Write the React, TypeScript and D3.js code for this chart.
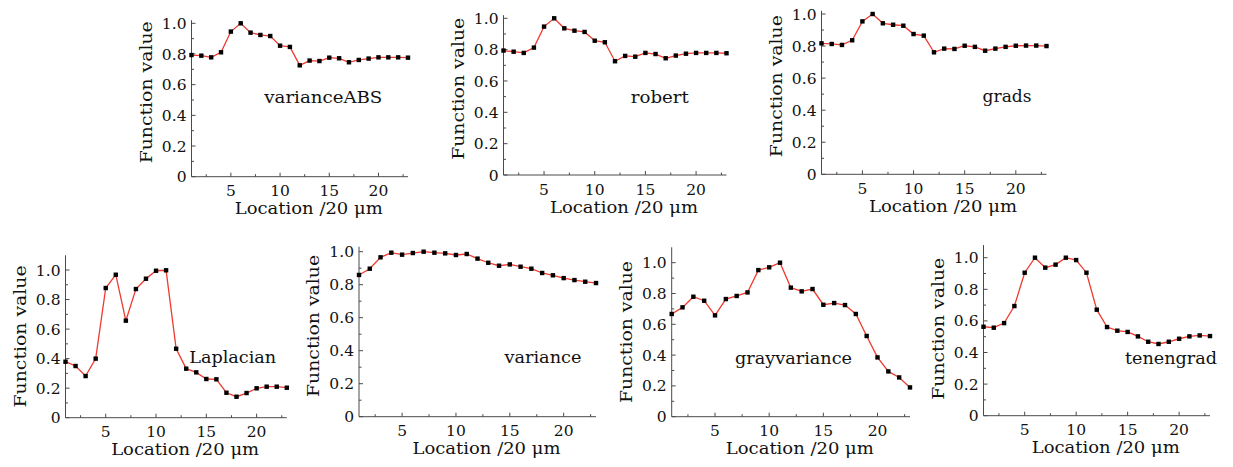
import React from 'react';
import * as d3 from 'd3';

// location index along the sample (units of 20 um)
const locations = [1, 2, 3, 4, 5, 6, 7, 8, 9, 10, 11, 12, 13, 14, 15, 16, 17, 18, 19, 20, 21, 22, 23];

const varianceABS = [0.793, 0.789, 0.778, 0.811, 0.946, 1.0, 0.939, 0.924, 0.917, 0.854, 0.846, 0.726, 0.757, 0.754, 0.776, 0.772, 0.746, 0.761, 0.77, 0.778, 0.778, 0.778, 0.776];
const robert = [0.794, 0.787, 0.779, 0.813, 0.947, 1.0, 0.936, 0.921, 0.913, 0.857, 0.847, 0.726, 0.76, 0.755, 0.779, 0.772, 0.745, 0.762, 0.774, 0.779, 0.779, 0.779, 0.777];
const grads = [0.817, 0.813, 0.807, 0.836, 0.954, 1.0, 0.942, 0.933, 0.927, 0.875, 0.865, 0.761, 0.784, 0.782, 0.802, 0.795, 0.771, 0.784, 0.795, 0.802, 0.803, 0.803, 0.8];
const laplacian = [0.379, 0.35, 0.282, 0.4, 0.878, 0.968, 0.657, 0.871, 0.941, 0.995, 0.998, 0.467, 0.332, 0.307, 0.262, 0.26, 0.169, 0.142, 0.167, 0.199, 0.21, 0.21, 0.203];
const variance = [0.859, 0.897, 0.966, 0.994, 0.982, 0.992, 1.0, 0.994, 0.99, 0.98, 0.986, 0.958, 0.933, 0.915, 0.923, 0.909, 0.897, 0.871, 0.857, 0.84, 0.828, 0.818, 0.81];
const grayvariance = [0.667, 0.71, 0.779, 0.753, 0.658, 0.764, 0.784, 0.807, 0.952, 0.97, 1.0, 0.838, 0.814, 0.829, 0.727, 0.738, 0.725, 0.667, 0.524, 0.385, 0.294, 0.255, 0.19];
const tenengrad = [0.563, 0.557, 0.586, 0.694, 0.905, 1.0, 0.937, 0.956, 1.0, 0.985, 0.905, 0.671, 0.561, 0.538, 0.53, 0.502, 0.468, 0.454, 0.468, 0.487, 0.502, 0.508, 0.504];

const yTicks = [0, 0.2, 0.4, 0.6, 0.8, 1.0];
const xTicks = [5, 10, 15, 20];

const FONT = '"DejaVu Serif", "Liberation Serif", serif';
const AXIS = '#4a4a4a';
const LINE = '#ee3b2f';
const INK = '#111';

// left/right = pixel of x=1 and x=23, bottom/top = pixel of y=0 and y=1
const panels = [
  { name: 'varianceABS', values: varianceABS, left: 191.5, right: 408, bottom: 176.7, top: 23.3, yMax: 1.02, lx: 8.4, ly: 0.48, lw: 118 },
  { name: 'robert', values: robert, left: 503.5, right: 726.5, bottom: 175, top: 18.3, yMax: 1.02, lx: 13.56, ly: 0.461, lw: 58 },
  { name: 'grads', values: grads, left: 821.5, right: 1046.5, bottom: 174.3, top: 14, yMax: 1.02, lx: 16.75, ly: 0.453, lw: 49 },
  { name: 'Laplacian', values: laplacian, left: 65.5, right: 286.8, bottom: 417.7, top: 270, yMax: 1.1, lx: 13.3, ly: 0.368, lw: 87 },
  { name: 'variance', values: variance, left: 359, right: 596, bottom: 416.7, top: 251.7, yMax: 1.03, lx: 14.5, ly: 0.324, lw: 77 },
  { name: 'grayvariance', values: grayvariance, left: 671.7, right: 910, bottom: 416.7, top: 262.7, yMax: 1.1, lx: 6.85, ly: 0.342, lw: 117 },
  { name: 'tenengrad', values: tenengrad, left: 983.5, right: 1210, bottom: 415.7, top: 257.7, yMax: 1.08, lx: 14.74, ly: 0.327, lw: 92 },
];

const Panel = ({ p }) => {
  const x = d3.scaleLinear().domain([1, 23]).range([p.left, p.right]);
  const y = d3.scaleLinear().domain([0, 1]).range([p.bottom, p.top]);
  const line = d3.line<number>().x((d, i) => x(locations[i])).y(d => y(d));
  const minorX = d3.range(2.5, 23, 2.5).filter(v => !xTicks.includes(v));
  const minorY = d3.range(0.1, p.yMax, 0.2);

  return (
    <g fill={INK}>
      {/* axes */}
      <line x1={x(1)} x2={x(1)} y1={y(0)} y2={y(p.yMax)} stroke={AXIS} strokeWidth={1} />
      <line x1={x(1)} x2={x(23)} y1={y(0)} y2={y(0)} stroke={AXIS} strokeWidth={1} />
      {xTicks.map(t => (
        <g key={'x' + t}>
          <line x1={x(t)} x2={x(t)} y1={y(0)} y2={y(0) - 4} stroke={AXIS} />
          <text x={x(t)} y={y(0) + 19.5} textAnchor="middle" fontSize={15.5} fontFamily={FONT}>{t}</text>
        </g>
      ))}
      {minorX.map(t => (
        <line key={'mx' + t} x1={x(t)} x2={x(t)} y1={y(0)} y2={y(0) - 2.5} stroke={AXIS} />
      ))}
      {yTicks.map(t => (
        <g key={'y' + t}>
          <line x1={x(1)} x2={x(1) + 4} y1={y(t)} y2={y(t)} stroke={AXIS} />
          <text x={x(1) - 5} y={y(t)} dy="0.36em" textAnchor="end" fontSize={15.5} fontFamily={FONT}>
            {t === 0 ? '0' : d3.format('.1f')(t)}
          </text>
        </g>
      ))}
      {minorY.map(t => (
        <line key={'my' + t} x1={x(1)} x2={x(1) + 2.5} y1={y(t)} y2={y(t)} stroke={AXIS} />
      ))}

      {/* series */}
      <path d={line(p.values) || ''} fill="none" stroke={LINE} strokeWidth={1.3} />
      {p.values.map((v, i) => (
        <rect key={i} x={x(locations[i]) - 2.2} y={y(v) - 2.2} width={4.4} height={4.4} fill="#000" />
      ))}

      {/* labels */}
      <text x={x(p.lx)} y={y(p.ly)} fontSize={16.5} fontFamily={FONT} textLength={p.lw} lengthAdjust="spacingAndGlyphs">
        {p.name}
      </text>
      <text
        x={(p.left + p.right) / 2 + 9}
        y={y(0) + 37.5}
        textAnchor="middle"
        fontSize={16}
        fontFamily={FONT}
        textLength={148}
        lengthAdjust="spacingAndGlyphs"
      >
        Location /20 μm
      </text>
      <text
        transform={`translate(${p.left - 40},${y(0.55)}) rotate(-90)`}
        textAnchor="middle"
        fontSize={16}
        fontFamily={FONT}
        textLength={142}
        lengthAdjust="spacingAndGlyphs"
      >
        Function value
      </text>
    </g>
  );
};

export default function App() {
  return (
    <svg width={1233} height={467} style={{ position: 'absolute', left: 0, top: 0, background: '#fff' }}>
      {panels.map(p => <Panel key={p.name} p={p} />)}
    </svg>
  );
}
